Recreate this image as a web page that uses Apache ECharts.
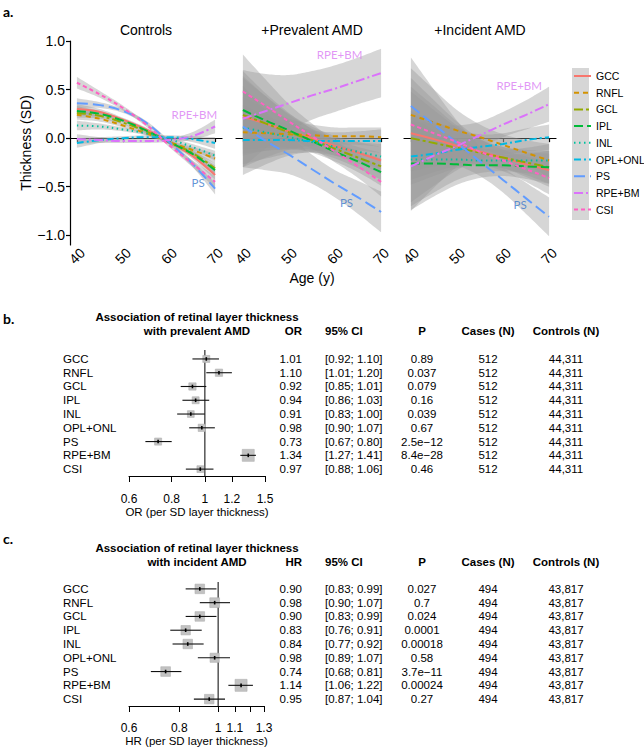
<!DOCTYPE html>
<html><head><meta charset="utf-8">
<script src="https://cdn.jsdelivr.net/npm/echarts@6/dist/echarts.min.js"></script>
<style>html,body{margin:0;padding:0;background:#fff}#c{width:644px;height:749px}</style>
</head><body><div id="c"></div>
<script>
// ---------------- DATA ----------------
const layers = ['GCC','RNFL','GCL','IPL','INL','OPL+ONL','PS','RPE+BM','CSI'];
const ages = [40,45,50,55,60,65,70];
const panelTitles = ['Controls','+Prevalent AMD','+Incident AMD'];
const yTicks = [-1,-0.5,0,0.5,1];
const ageTicks = [40,50,60,70];

const ctrlMean = [
  [0.30, 0.27, 0.19, 0.09, -0.04, -0.18, -0.38],
  [0.24, 0.20, 0.13, 0.05, -0.04, -0.12, -0.21],
  [0.26, 0.23, 0.16, 0.07, -0.04, -0.15, -0.31],
  [0.28, 0.25, 0.18, 0.08, -0.04, -0.16, -0.33],
  [0.13, 0.12, 0.09, 0.05, -0.01, -0.09, -0.18],
  [-0.05, -0.02, 0.00, 0.01, 0.01, -0.01, -0.05],
  [0.36, 0.34, 0.28, 0.16, -0.04, -0.26, -0.52],
  [-0.01, -0.02, -0.03, -0.03, -0.02, 0.02, 0.12],
  [0.57, 0.45, 0.31, 0.14, -0.07, -0.26, -0.45]
];
const ctrlHalfCI = [
  [0.05, 0.03, 0.02, 0.02, 0.02, 0.03, 0.05],
  [0.05, 0.03, 0.02, 0.02, 0.02, 0.03, 0.05],
  [0.05, 0.03, 0.02, 0.02, 0.02, 0.03, 0.05],
  [0.05, 0.03, 0.02, 0.02, 0.02, 0.03, 0.05],
  [0.05, 0.03, 0.02, 0.02, 0.02, 0.03, 0.05],
  [0.05, 0.03, 0.02, 0.02, 0.02, 0.03, 0.06],
  [0.05, 0.03, 0.02, 0.02, 0.02, 0.03, 0.06],
  [0.05, 0.03, 0.02, 0.02, 0.02, 0.04, 0.07],
  [0.06, 0.035, 0.025, 0.02, 0.02, 0.035, 0.06]
];
const prevMean = [
  [0.22, 0.15, 0.07, 0.00, -0.08, -0.15, -0.23],
  [0.06, 0.05, 0.04, 0.03, 0.02, 0.02, 0.01],
  [0.24, 0.15, 0.06, -0.02, -0.11, -0.20, -0.29],
  [0.29, 0.18, 0.08, -0.03, -0.14, -0.24, -0.35],
  [0.11, 0.06, 0.01, -0.04, -0.09, -0.14, -0.19],
  [-0.02, -0.02, -0.02, -0.03, -0.03, -0.03, -0.03],
  [0.12, -0.03, -0.17, -0.32, -0.47, -0.61, -0.76],
  [0.20, 0.28, 0.36, 0.44, 0.51, 0.59, 0.67],
  [0.48, 0.33, 0.17, 0.02, -0.14, -0.29, -0.45]
];
const prevHalfCI = [
  [0.40, 0.28, 0.18, 0.12, 0.10, 0.11, 0.14],
  [0.36, 0.25, 0.16, 0.11, 0.09, 0.09, 0.10],
  [0.40, 0.28, 0.18, 0.12, 0.10, 0.11, 0.14],
  [0.40, 0.28, 0.18, 0.12, 0.10, 0.11, 0.14],
  [0.38, 0.27, 0.17, 0.11, 0.09, 0.10, 0.13],
  [0.36, 0.25, 0.16, 0.11, 0.09, 0.10, 0.12],
  [0.42, 0.30, 0.20, 0.15, 0.14, 0.17, 0.21],
  [0.50, 0.38, 0.29, 0.25, 0.24, 0.24, 0.25],
  [0.38, 0.27, 0.18, 0.13, 0.11, 0.12, 0.15]
];
const incMean = [
  [0.05, -0.01, -0.08, -0.14, -0.20, -0.27, -0.33],
  [0.24, 0.16, 0.08, 0.01, -0.07, -0.15, -0.23],
  [0.00, -0.05, -0.10, -0.15, -0.20, -0.25, -0.30],
  [-0.26, -0.26, -0.27, -0.28, -0.28, -0.29, -0.30],
  [-0.22, -0.22, -0.22, -0.23, -0.23, -0.23, -0.23],
  [-0.19, -0.16, -0.12, -0.09, -0.06, -0.02, 0.01],
  [0.33, 0.14, -0.05, -0.24, -0.43, -0.62, -0.81],
  [-0.29, -0.18, -0.08, 0.03, 0.14, 0.24, 0.35],
  [0.14, 0.05, -0.04, -0.14, -0.23, -0.32, -0.41]
];
const incHalfCI = [
  [0.48, 0.34, 0.21, 0.13, 0.11, 0.13, 0.17],
  [0.48, 0.34, 0.21, 0.13, 0.11, 0.13, 0.17],
  [0.48, 0.34, 0.21, 0.13, 0.11, 0.13, 0.17],
  [0.48, 0.34, 0.21, 0.13, 0.11, 0.13, 0.17],
  [0.48, 0.34, 0.21, 0.13, 0.11, 0.13, 0.17],
  [0.47, 0.33, 0.21, 0.13, 0.11, 0.12, 0.13],
  [0.50, 0.36, 0.23, 0.15, 0.13, 0.16, 0.20],
  [0.46, 0.33, 0.21, 0.14, 0.13, 0.15, 0.18],
  [0.48, 0.34, 0.21, 0.13, 0.11, 0.13, 0.17]
];
// annotations: [panel, text, age, value]
const annotations = [
  [0,'RPE+BM',65.5,0.24],[0,'PS',66.3,-0.46],
  [1,'RPE+BM',61,0.86],[1,'PS',62.5,-0.66],
  [2,'RPE+BM',63.5,0.54],[2,'PS',63.7,-0.68]
];

const orEst = [1.01,1.10,0.92,0.94,0.91,0.98,0.73,1.34,0.97];
const orLo  = [0.92,1.01,0.85,0.86,0.83,0.90,0.67,1.27,0.88];
const orHi  = [1.10,1.20,1.01,1.03,1.00,1.07,0.80,1.41,1.06];
const orP   = ['0.89','0.037','0.079','0.16','0.039','0.67','2.5e\u221212','8.4e\u221228','0.46'];
const orCases = ['512','512','512','512','512','512','512','512','512'];
const orControls = ['44,311','44,311','44,311','44,311','44,311','44,311','44,311','44,311','44,311'];
const orTicks = [0.6,0.8,1,1.2,1.5];

const hrEst = [0.90,0.98,0.90,0.83,0.84,0.98,0.74,1.14,0.95];
const hrLo  = [0.83,0.90,0.83,0.76,0.77,0.89,0.68,1.06,0.87];
const hrHi  = [0.99,1.07,0.99,0.91,0.92,1.07,0.81,1.22,1.04];
const hrP   = ['0.027','0.7','0.024','0.0001','0.00018','0.58','3.7e\u221211','0.00024','0.27'];
const hrCases = ['494','494','494','494','494','494','494','494','494'];
const hrControls = ['43,817','43,817','43,817','43,817','43,817','43,817','43,817','43,817','43,817'];
const hrTicks = [0.6,0.8,1,1.1,1.2,1.3];
const hrTickLabels = [0.6,0.8,1,1.1,1.3];

// ---------------- STYLE ----------------
const FONT = '"Liberation Sans", Arial, Helvetica, sans-serif';
const ANNO_FONT = 'Lato, "Open Sans", sans-serif';
const colors = ['#F8766D','#D39200','#93AA00','#00BA38','#00C19F','#00B9E3','#619CFF','#DB72FB','#FF61C3'];
const dashes = ['solid',[5,4],[9,3,3,3],[9,4],[1.5,3.5],[7,3,2,3],[11,5],[9,3,2,3],[4,3]];
const bandFill = 'rgba(153,153,153,0.4)';
const aGrids = [
  {left:70, top:41, width:152, height:204},
  {left:236, top:41, width:152, height:204},
  {left:404, top:41, width:152, height:204}
];
const bRange = {min:-0.65, max:8.5};
const cRange = {min:-0.5, max:8.5};
const grids = aGrids.concat([
  {left:129, top:350, width:136, height:126},
  {left:129, top:582, width:135, height:124}
]);

const xAxes = [], yAxes = [], series = [];
[0,1,2].forEach(pi => {
  xAxes.push({
    gridIndex: pi, type:'value', min:38.5, max:71.5,
    axisLine:{show:true, lineStyle:{color:'#000', width:1.2}},
    axisTick:{show:true, customValues: ageTicks, length:4, lineStyle:{color:'#000', width:1.2}},
    axisLabel:{customValues: ageTicks, rotate:45, align:'center', verticalAlign:'middle', margin:11,
      fontSize:14, color:'#000', fontFamily:FONT},
    splitLine:{show:false},
    name: pi===1 ? 'Age (y)' : '', nameLocation:'middle', nameGap:26,
    nameTextStyle:{fontSize:14, color:'#000', fontFamily:FONT}
  });
  yAxes.push({
    gridIndex: pi, type:'value', min:-1.1, max:1.0, show: pi===0,
    axisLine:{show:true, lineStyle:{color:'#000', width:1.2}},
    axisTick:{show:true, customValues: yTicks, length:4, lineStyle:{color:'#000', width:1.2}},
    axisLabel:{customValues: yTicks, fontSize:14, color:'#000', fontFamily:FONT, margin:5,
      formatter: v => (v < 0 ? '\u2212' : '') + Math.abs(v).toFixed(1)},
    splitLine:{show:false},
    name: pi===0 ? 'Thickness (SD)' : '', nameLocation:'middle', nameGap:37, nameRotate:90,
    nameTextStyle:{fontSize:14, color:'#000', fontFamily:FONT}
  });
});

// Catmull-Rom sampling of pixel points (rendering only)
function catmull(pts, steps) {
  const out = [];
  const n = pts.length;
  for (let i = 0; i < n - 1; i++) {
    const p0 = pts[Math.max(i-1,0)], p1 = pts[i], p2 = pts[i+1], p3 = pts[Math.min(i+2,n-1)];
    for (let s = 0; s < steps; s++) {
      const t = s / steps, t2 = t*t, t3 = t2*t;
      const f = (a,b,c,d) => 0.5*((2*b) + (-a + c)*t + (2*a - 5*b + 4*c - d)*t2 + (-a + 3*b - 3*c + d)*t3);
      out.push([f(p0[0],p1[0],p2[0],p3[0]), f(p0[1],p1[1],p2[1],p3[1])]);
    }
  }
  out.push(pts[n-1]);
  return out;
}
function bandRender(params, api) {
  if (params.dataIndexInside !== 0) return null;
  const n = params.dataInsideLength;
  const top = [], bot = [];
  for (let k = 0; k < n; k++) {
    top.push(api.coord([api.value(0,k), api.value(2,k)]));
    bot.push(api.coord([api.value(0,k), api.value(1,k)]));
  }
  const pts = catmull(top, 12).concat(catmull(bot, 12).reverse());
  return {type:'polygon', shape:{points: pts}, style:{fill: bandFill}};
}

const panels = [[ctrlMean, ctrlHalfCI],[prevMean, prevHalfCI],[incMean, incHalfCI]];
panels.forEach(([mean, hw], pi) => {
  layers.forEach((name, li) => {
    series.push({type:'custom', xAxisIndex:pi, yAxisIndex:pi, silent:true, clip:true,
      encode:{x:0, y:[1,2]}, renderItem: bandRender,
      data: ages.map((a,k) => [a, mean[li][k] - hw[li][k], mean[li][k] + hw[li][k]])});
    series.push({type:'line', name, xAxisIndex:pi, yAxisIndex:pi, silent:true, symbol:'none', smooth:0.35,
      lineStyle:{color:colors[li], width:2, type:dashes[li]}, itemStyle:{color:colors[li]},
      data: ages.map((a,k) => [a, mean[li][k]])});
  });
  series.push({type:'scatter', xAxisIndex:pi, yAxisIndex:pi, silent:true, symbolSize:0,
    data: annotations.filter(a => a[0]===pi).map(a => ({
      name:a[1], value:[a[2], a[3]],
      label:{color: a[1] === 'PS' ? '#3a78cc' : '#d97cf3'}})),
    label:{show:true, position:'inside', formatter: p => p.name, fontFamily:ANNO_FONT, fontSize:11.5},
    itemStyle:{color:'transparent'},
    z:10
  });
});

// ---------------- FOREST PLOTS ----------------
function forestRows(est, lo, hi) {
  const se = est.map((e,i) => (Math.log(hi[i]) - Math.log(lo[i])) / (2*1.96));
  const minSe = Math.min.apply(null, se);
  return est.map((e,i) => [i, Math.log(e), Math.log(lo[i]), Math.log(hi[i]), 12*minSe/se[i]]);
}
function forestAxes(gi, ticks, labelTicks, range, name, margin, gap) {
  xAxes.push({
    gridIndex: gi, type:'value', min: Math.log(ticks[0]), max: Math.log(ticks[ticks.length-1]),
    axisLine:{show:true, onZero:false, lineStyle:{color:'#000', width:1}},
    axisTick:{show:true, customValues: ticks.map(Math.log), length:6, lineStyle:{color:'#000', width:1}},
    axisLabel:{customValues: labelTicks.map(Math.log), fontSize:12, color:'#000', fontFamily:FONT, margin,
      formatter: v => { const t = labelTicks.find(t => Math.abs(Math.log(t)-v) < 1e-6); return t===undefined ? '' : String(t); }},
    splitLine:{show:false},
    name, nameLocation:'middle', nameGap:gap, nameTextStyle:{fontSize:11.5, color:'#000', fontFamily:FONT}
  });
  yAxes.push({gridIndex: gi, type:'value', inverse:true, min:range.min, max:range.max, show:false});
}
forestAxes(3, orTicks, orTicks, bRange, 'OR (per SD layer thickness)', 17, 30);
forestAxes(4, hrTicks, hrTickLabels, cRange, 'HR (per SD layer thickness)', 16, 28);

function forestSeries(gi, rows, range) {
  series.push({type:'line', xAxisIndex:gi, yAxisIndex:gi, silent:true, symbol:'none',
    lineStyle:{color:'#555', width:1.5}, data:[[0, range.min],[0, range.max]], z:2});
  series.push({type:'custom', xAxisIndex:gi, yAxisIndex:gi, silent:true, z:3,
    encode:{x:[1,2,3], y:0}, data: rows,
    renderItem: (params, api) => {
      const c = api.coord([api.value(1), api.value(0)]);
      const l = api.coord([api.value(2), api.value(0)]);
      const h = api.coord([api.value(3), api.value(0)]);
      const s = api.value(4);
      return {type:'group', children:[
        {type:'rect', shape:{x:c[0]-s/2, y:c[1]-s/2, width:s, height:s}, style:{fill:'#c2c2c2', stroke:'#b0b0b0', lineWidth:0.6}},
        {type:'line', shape:{x1:l[0], y1:l[1], x2:h[0], y2:h[1]}, style:{stroke:'#111', lineWidth:1.1}},
        {type:'line', shape:{x1:c[0], y1:c[1]-1.8, x2:c[0], y2:c[1]+1.8}, style:{stroke:'#000', lineWidth:1.6}}
      ]};
    }
  });
}
forestSeries(3, forestRows(orEst, orLo, orHi), bRange);
forestSeries(4, forestRows(hrEst, hrLo, hrHi), cRange);

const chart = echarts.init(document.getElementById('c'), null, {renderer:'svg', width:644, height:749});
chart.setOption({
  animation:false,
  backgroundColor:'#fff',
  grid: grids,
  xAxis: xAxes,
  yAxis: yAxes,
  legend: {
    data: layers, orient:'vertical', left:573, top:70, itemWidth:17, itemHeight:12, itemGap:4.7,
    selectedMode:false, padding:0,
    itemStyle:{opacity:0},
    textStyle:{fontSize:10.5, lineHeight:12, color:'#000', fontFamily:FONT}
  },
  series
});

// ---------------- TEXT (graphic) ----------------
function txt(x, y, text, o) {
  o = o || {};
  return {type:'text', x, y, silent:true, z:50,
    style:{text, fill:o.color||'#000',
      font:(o.bold?'bold ':'') + (o.size||11.5) + 'px ' + (o.family||FONT),
      textAlign:o.align||'left', textVerticalAlign:'middle'}};
}
const els = [];
els.push({type:'rect', shape:{x:572, y:68, width:17, height:152}, style:{fill:bandFill}, z:-1, silent:true});
els.push(txt(3, 11, 'a.', {bold:true, size:14, family:'Lato, ' + FONT}));
els.push(txt(3, 318, 'b.', {bold:true, size:14, family:'Lato, ' + FONT}));
els.push(txt(3, 538, 'c.', {bold:true, size:14, family:'Lato, ' + FONT}));
panelTitles.forEach((t, i) => {
  const g = aGrids[i];
  els.push(txt(g.left + g.width/2, 30, t, {size:14, align:'center'}));
});

function table(gi, y1, y2, line2, effLabel, est, lo, hi, p, cases, ctrls) {
  els.push(txt(197, y1, 'Association of retinal layer thickness', {bold:true, align:'center'}));
  els.push(txt(197, y2, line2, {bold:true, align:'center'}));
  els.push(txt(302, y2, effLabel, {bold:true, align:'right'}));
  els.push(txt(325, y2, '95% CI', {bold:true}));
  els.push(txt(422, y2, 'P', {bold:true, align:'center'}));
  els.push(txt(488, y2, 'Cases (N)', {bold:true, align:'center'}));
  els.push(txt(566, y2, 'Controls (N)', {bold:true, align:'center'}));
  layers.forEach((name, i) => {
    const y = chart.convertToPixel({gridIndex: gi}, [0, i])[1];
    els.push(txt(63, y, name));
    els.push(txt(302, y, est[i].toFixed(2), {align:'right'}));
    els.push(txt(325, y, '[' + lo[i].toFixed(2) + '; ' + hi[i].toFixed(2) + ']'));
    els.push(txt(422, y, p[i], {align:'center'}));
    els.push(txt(488, y, cases[i], {align:'center'}));
    els.push(txt(566, y, ctrls[i], {align:'center'}));
  });
}
table(3, 317, 331, 'with prevalent AMD', 'OR', orEst, orLo, orHi, orP, orCases, orControls);
table(4, 548, 562, 'with incident AMD', 'HR', hrEst, hrLo, hrHi, hrP, hrCases, hrControls);

chart.setOption({graphic: {elements: els}});
</script></body></html>
